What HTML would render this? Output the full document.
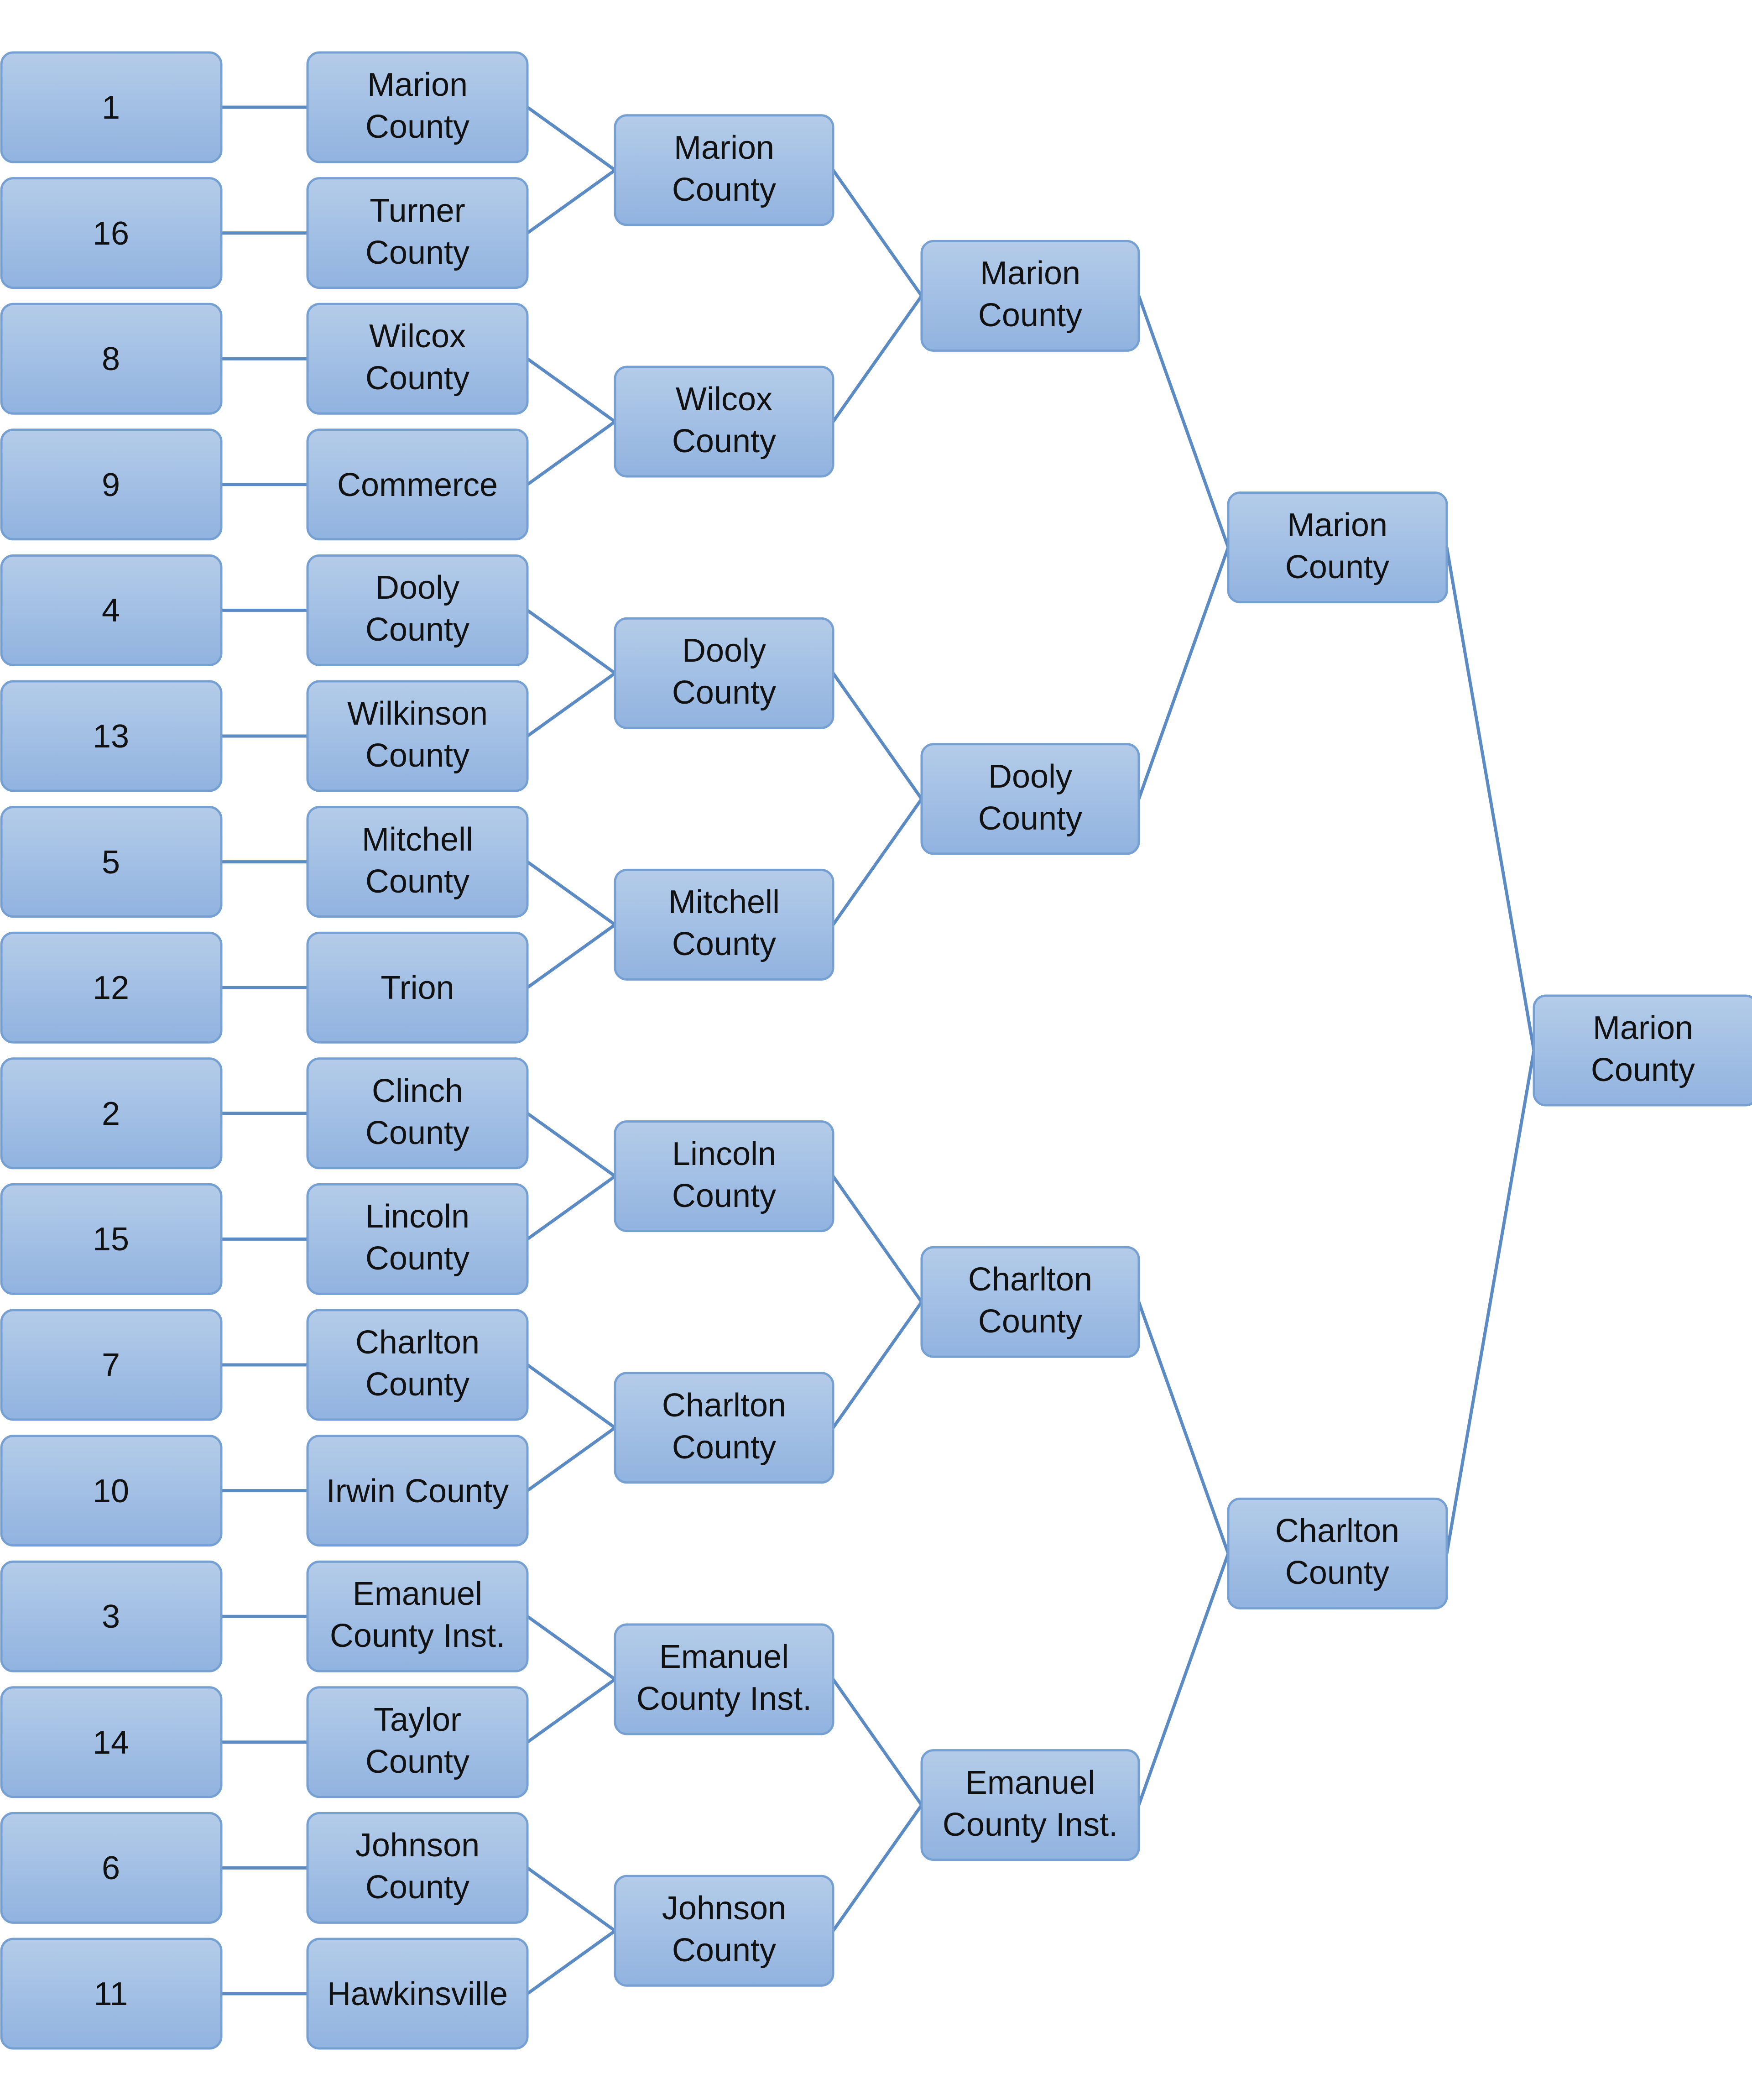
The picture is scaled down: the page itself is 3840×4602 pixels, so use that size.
<!DOCTYPE html>
<html><head><meta charset="utf-8"><style>html,body{margin:0;padding:0;background:#fff}svg{display:block}</style></head>
<body>
<svg width="3840" height="4602" viewBox="0 0 3840 4602" xmlns="http://www.w3.org/2000/svg">
<defs>
<linearGradient id="g" x1="0" y1="0" x2="0" y2="1"><stop offset="0" stop-color="#b4cce9"/><stop offset="1" stop-color="#91b3e0"/></linearGradient>
</defs>
<g stroke="#5b8bc2" stroke-width="7" fill="none">
<path d="M485 235H674M485 510.6H674M485 786.2H674M485 1061.8H674M485 1337.4H674M485 1613H674M485 1888.6H674M485 2164.2H674M485 2439.8H674M485 2715.4H674M485 2991H674M485 3266.6H674M485 3542.2H674M485 3817.8H674M485 4093.4H674M485 4369H674"/>
<path d="M1156 235L1348 372.8L1156 510.6M1156 786.2L1348 924L1156 1061.8M1156 1337.4L1348 1475.2L1156 1613M1156 1888.6L1348 2026.4L1156 2164.2M1156 2439.8L1348 2577.6L1156 2715.4M1156 2991L1348 3128.8L1156 3266.6M1156 3542.2L1348 3680L1156 3817.8M1156 4093.4L1348 4231.2L1156 4369"/>
<path d="M1826 372.8L2020 648.4L1826 924M1826 1475.2L2020 1750.8L1826 2026.4M1826 2577.6L2020 2853.2L1826 3128.8M1826 3680L2020 3955.6L1826 4231.2"/>
<path d="M2496 648.4L2692 1199.6L2496 1750.8M2496 2853.2L2692 3404.4L2496 3955.6"/>
<path d="M3171 1199.6L3362 2302L3171 3404.4"/>
</g>
<g fill="url(#g)" stroke="#76a0d2" stroke-width="5">
<rect x="3" y="115" width="482" height="240" rx="26"/><rect x="3" y="390.6" width="482" height="240" rx="26"/><rect x="3" y="666.2" width="482" height="240" rx="26"/><rect x="3" y="941.8" width="482" height="240" rx="26"/><rect x="3" y="1217.4" width="482" height="240" rx="26"/><rect x="3" y="1493" width="482" height="240" rx="26"/><rect x="3" y="1768.6" width="482" height="240" rx="26"/><rect x="3" y="2044.2" width="482" height="240" rx="26"/><rect x="3" y="2319.8" width="482" height="240" rx="26"/><rect x="3" y="2595.4" width="482" height="240" rx="26"/><rect x="3" y="2871" width="482" height="240" rx="26"/><rect x="3" y="3146.6" width="482" height="240" rx="26"/><rect x="3" y="3422.2" width="482" height="240" rx="26"/><rect x="3" y="3697.8" width="482" height="240" rx="26"/><rect x="3" y="3973.4" width="482" height="240" rx="26"/><rect x="3" y="4249" width="482" height="240" rx="26"/>
<rect x="674" y="115" width="482" height="240" rx="26"/><rect x="674" y="390.6" width="482" height="240" rx="26"/><rect x="674" y="666.2" width="482" height="240" rx="26"/><rect x="674" y="941.8" width="482" height="240" rx="26"/><rect x="674" y="1217.4" width="482" height="240" rx="26"/><rect x="674" y="1493" width="482" height="240" rx="26"/><rect x="674" y="1768.6" width="482" height="240" rx="26"/><rect x="674" y="2044.2" width="482" height="240" rx="26"/><rect x="674" y="2319.8" width="482" height="240" rx="26"/><rect x="674" y="2595.4" width="482" height="240" rx="26"/><rect x="674" y="2871" width="482" height="240" rx="26"/><rect x="674" y="3146.6" width="482" height="240" rx="26"/><rect x="674" y="3422.2" width="482" height="240" rx="26"/><rect x="674" y="3697.8" width="482" height="240" rx="26"/><rect x="674" y="3973.4" width="482" height="240" rx="26"/><rect x="674" y="4249" width="482" height="240" rx="26"/>
<rect x="1348" y="252.8" width="478" height="240" rx="26"/><rect x="1348" y="804" width="478" height="240" rx="26"/><rect x="1348" y="1355.2" width="478" height="240" rx="26"/><rect x="1348" y="1906.4" width="478" height="240" rx="26"/><rect x="1348" y="2457.6" width="478" height="240" rx="26"/><rect x="1348" y="3008.8" width="478" height="240" rx="26"/><rect x="1348" y="3560" width="478" height="240" rx="26"/><rect x="1348" y="4111.2" width="478" height="240" rx="26"/>
<rect x="2020" y="528.4" width="476" height="240" rx="26"/><rect x="2020" y="1630.8" width="476" height="240" rx="26"/><rect x="2020" y="2733.2" width="476" height="240" rx="26"/><rect x="2020" y="3835.6" width="476" height="240" rx="26"/>
<rect x="2692" y="1079.6" width="479" height="240" rx="26"/><rect x="2692" y="3284.4" width="479" height="240" rx="26"/>
<rect x="3362" y="2182" width="490" height="240" rx="26"/>
</g>
<g font-family="Liberation Sans, sans-serif" font-size="72" fill="#111" text-anchor="middle">
<text x="243" y="260">1</text><text x="243" y="536">16</text><text x="243" y="811">8</text><text x="243" y="1087">9</text><text x="243" y="1362">4</text><text x="243" y="1638">13</text><text x="243" y="1914">5</text><text x="243" y="2189">12</text><text x="243" y="2465">2</text><text x="243" y="2740">15</text><text x="243" y="3016">7</text><text x="243" y="3292">10</text><text x="243" y="3567">3</text><text x="243" y="3843">14</text><text x="243" y="4118">6</text><text x="243" y="4394">11</text>
<text x="915" y="210">Marion</text><text x="915" y="302">County</text>
<text x="915" y="486">Turner</text><text x="915" y="578">County</text>
<text x="915" y="761">Wilcox</text><text x="915" y="853">County</text>
<text x="915" y="1087">Commerce</text>
<text x="915" y="1312">Dooly</text><text x="915" y="1404">County</text>
<text x="915" y="1588">Wilkinson</text><text x="915" y="1680">County</text>
<text x="915" y="1864">Mitchell</text><text x="915" y="1956">County</text>
<text x="915" y="2189">Trion</text>
<text x="915" y="2415">Clinch</text><text x="915" y="2507">County</text>
<text x="915" y="2690">Lincoln</text><text x="915" y="2782">County</text>
<text x="915" y="2966">Charlton</text><text x="915" y="3058">County</text>
<text x="915" y="3292">Irwin County</text>
<text x="915" y="3517">Emanuel</text><text x="915" y="3609">County Inst.</text>
<text x="915" y="3793">Taylor</text><text x="915" y="3885">County</text>
<text x="915" y="4068">Johnson</text><text x="915" y="4160">County</text>
<text x="915" y="4394">Hawkinsville</text>
<text x="1587" y="348">Marion</text><text x="1587" y="440">County</text>
<text x="1587" y="899">Wilcox</text><text x="1587" y="991">County</text>
<text x="1587" y="1450">Dooly</text><text x="1587" y="1542">County</text>
<text x="1587" y="2001">Mitchell</text><text x="1587" y="2093">County</text>
<text x="1587" y="2553">Lincoln</text><text x="1587" y="2645">County</text>
<text x="1587" y="3104">Charlton</text><text x="1587" y="3196">County</text>
<text x="1587" y="3655">Emanuel</text><text x="1587" y="3747">County Inst.</text>
<text x="1587" y="4206">Johnson</text><text x="1587" y="4298">County</text>
<text x="2258" y="623">Marion</text><text x="2258" y="715">County</text>
<text x="2258" y="1726">Dooly</text><text x="2258" y="1818">County</text>
<text x="2258" y="2828">Charlton</text><text x="2258" y="2920">County</text>
<text x="2258" y="3931">Emanuel</text><text x="2258" y="4023">County Inst.</text>
<text x="2931" y="1175">Marion</text><text x="2931" y="1267">County</text>
<text x="2931" y="3379">Charlton</text><text x="2931" y="3471">County</text>
<text x="3601" y="2277">Marion</text><text x="3601" y="2369">County</text>
</g>
</svg>
</body></html>
